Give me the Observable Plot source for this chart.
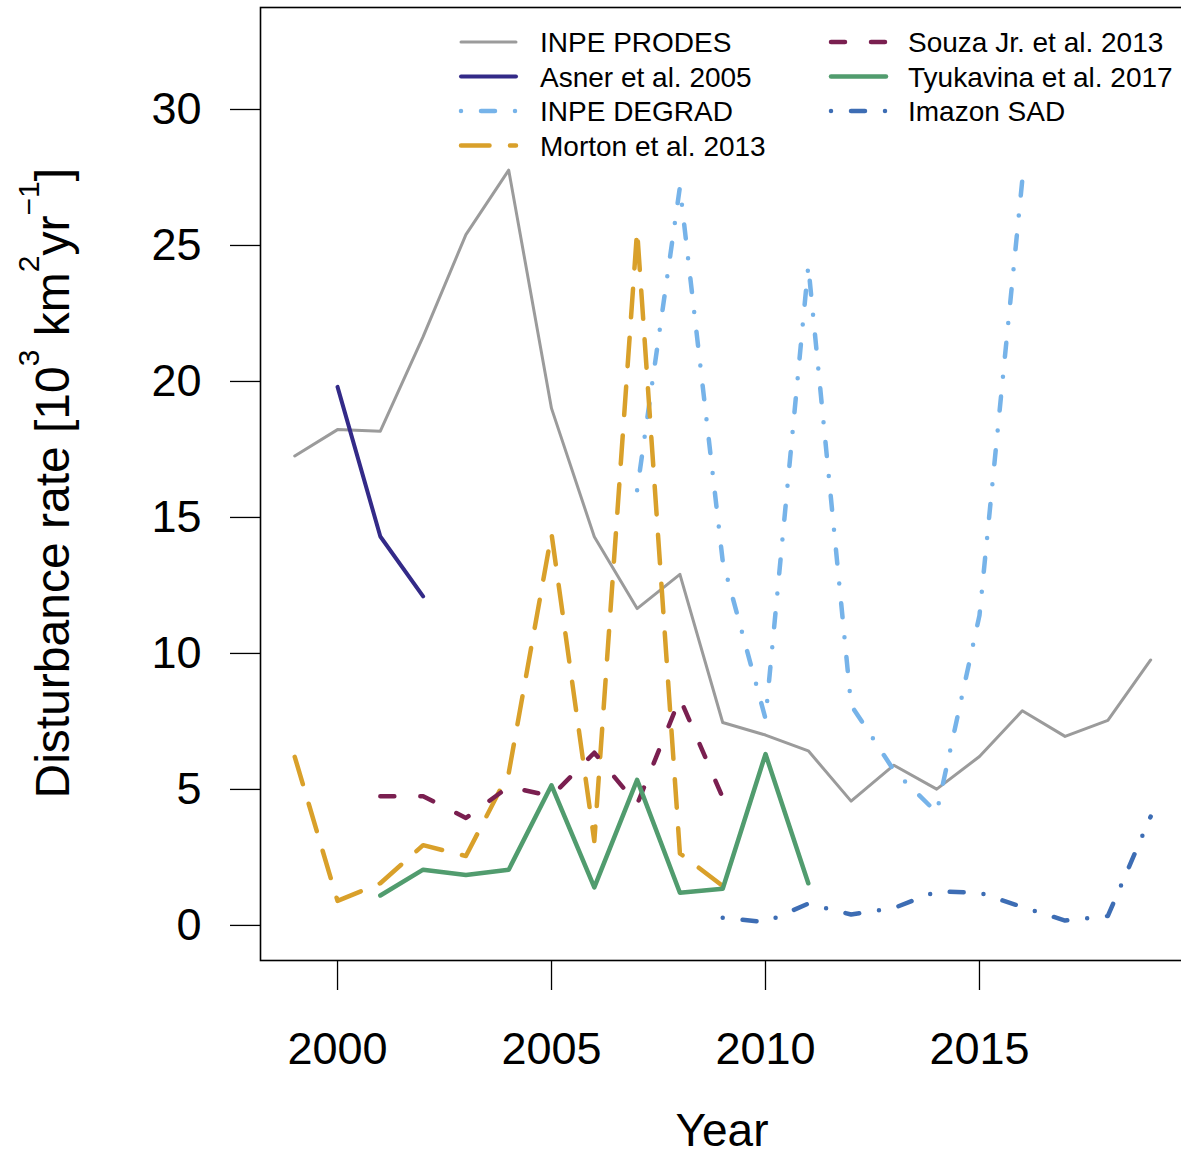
<!DOCTYPE html>
<html>
<head>
<meta charset="utf-8">
<script src="https://cdn.jsdelivr.net/npm/d3@7"></script>
<script src="https://cdn.jsdelivr.net/npm/@observablehq/plot@0.6"></script>
<style>
html, body { margin: 0; padding: 0; background: #fff; overflow: hidden; }
</style>
</head>
<body>
<div id="chart"></div>
<script>
// ---- tick labels ----
const xTicks = [2000, 2005, 2010, 2015];
const yTicks = [0, 5, 10, 15, 20, 25, 30];

// ---- series (10^3 km^2 / yr) ----
const seriesNames = ["INPE PRODES", "Asner et al. 2005", "INPE DEGRAD", "Morton et al. 2013",
                     "Souza Jr. et al. 2013", "Tyukavina et al. 2017", "Imazon SAD"];

const prodesYears = [1999, 2000, 2001, 2002, 2003, 2004, 2005, 2006, 2007, 2008, 2009, 2010, 2011, 2012, 2013, 2014, 2015, 2016, 2017, 2018, 2019];
const prodesRate  = [17.26, 18.23, 18.17, 21.65, 25.40, 27.77, 19.01, 14.29, 11.65, 12.91, 7.46, 7.00, 6.42, 4.57, 5.89, 5.01, 6.21, 7.89, 6.95, 7.54, 9.76];

const asnerYears = [2000, 2001, 2002];
const asnerRate  = [19.8, 14.3, 12.1];

const degradYears = [2007, 2008, 2009, 2010, 2011, 2012, 2013, 2014, 2015, 2016];
const degradRate  = [16.0, 27.15, 13.4, 7.6, 24.25, 8.1, 5.7, 4.15, 11.4, 27.4];

const mortonYears = [1999, 2000, 2001, 2002, 2003, 2004, 2005, 2006, 2007, 2008, 2009];
const mortonRate  = [6.2, 0.9, 1.55, 2.95, 2.55, 5.6, 14.4, 3.1, 25.55, 2.65, 1.45];

const souzaYears = [2001, 2002, 2003, 2004, 2005, 2006, 2007, 2008, 2009];
const souzaRate  = [4.75, 4.75, 3.95, 5.1, 4.75, 6.35, 4.45, 8.35, 4.7];

const tyukavinaYears = [2001, 2002, 2003, 2004, 2005, 2006, 2007, 2008, 2009, 2010, 2011];
const tyukavinaRate  = [1.1, 2.05, 1.85, 2.05, 5.15, 1.4, 5.35, 1.2, 1.35, 6.3, 1.55];

const imazonYears = [2009, 2010, 2011, 2012, 2013, 2014, 2015, 2016, 2017, 2018, 2019];
const imazonRate  = [0.28, 0.12, 0.8, 0.4, 0.64, 1.25, 1.2, 0.68, 0.18, 0.35, 4.0];

// ---- styles (kept apart from the data) ----
const styles = [
  {color: "#9b9b9b", width: 3,   dash: null},
  {color: "#332a88", width: 4,   dash: null},
  {color: "#76b3e9", width: 4.5, dash: "0,20,14,20"},
  {color: "#d9a02a", width: 4.5, dash: "28.5,20.5"},
  {color: "#7a1f50", width: 4.5, dash: "14,26"},
  {color: "#519c6e", width: 4.5, dash: null},
  {color: "#3d6db4", width: 4.5, dash: "0,20,14,20"}
];

const rows = (years, rates) => years.map((year, i) => ({year, rate: rates[i]}));
const seriesData = [
  rows(prodesYears, prodesRate),
  rows(asnerYears, asnerRate),
  rows(degradYears, degradRate),
  rows(mortonYears, mortonRate),
  rows(souzaYears, souzaRate),
  rows(tyukavinaYears, tyukavinaRate),
  rows(imazonYears, imazonRate)
];

const lineMarks = seriesData.map((data, i) => Plot.line(data, {
  x: "year", y: "rate",
  stroke: styles[i].color,
  strokeWidth: styles[i].width,
  strokeDasharray: styles[i].dash ?? undefined,
  strokeLinecap: "round",
  strokeLinejoin: "round"
}));

const chart = Plot.plot({
  width: 1181,
  height: 1156,
  marginLeft: 260,
  marginRight: -3.4,
  marginTop: 7,
  marginBottom: 196,
  x: {domain: [1998.2, 2019.8]},
  y: {domain: [-1.29, 33.75]},
  style: {
    fontFamily: "'Liberation Sans', Arial, Helvetica, sans-serif",
    fontSize: "45px",
    color: "black",
    background: "white",
    overflow: "hidden"
  },
  marks: [
    Plot.axisY(yTicks, {anchor: "left", tickSize: 30, tickPadding: 29, label: null, color: "black", strokeWidth: 1.3}),
    Plot.axisX(xTicks, {anchor: "bottom", tickSize: 30, tickPadding: 42, label: null, color: "black", strokeWidth: 1.3,
                        tickFormat: d => String(d)}),
    ...lineMarks,
    Plot.frame({stroke: "black", strokeWidth: 1.6})
  ]
});

document.getElementById("chart").appendChild(chart);

// ---- axis titles and legend (real text) ----
const svg = d3.select(chart);

svg.append("text")
  .attr("x", 722).attr("y", 1146)
  .attr("text-anchor", "middle")
  .attr("font-size", 46)
  .attr("fill", "black")
  .text("Year");

const yt = svg.append("text")
  .attr("transform", "translate(69,168) rotate(-90)")
  .attr("text-anchor", "end")
  .attr("font-size", 48)
  .attr("fill", "black");
yt.append("tspan").text("Disturbance rate [10");
yt.append("tspan").attr("font-size", 30).attr("dy", -30).text("3");
yt.append("tspan").attr("dy", 30).text(" km");
yt.append("tspan").attr("font-size", 30).attr("dy", -30).text("2");
yt.append("tspan").attr("dy", 30).text("yr");
yt.append("tspan").attr("font-size", 30).attr("dy", -30).text("\u22121");
yt.append("tspan").attr("dy", 30).text("]");

const legend = svg.append("g");
seriesNames.forEach((name, i) => {
  const col = i < 4 ? 0 : 1;
  const row = i < 4 ? i : i - 4;
  const x0 = col === 0 ? 461 : 831;
  const tx = col === 0 ? 540 : 908;
  const y = 42 + row * 34.5;
  const s = styles[i];
  const ln = legend.append("line")
    .attr("x1", x0).attr("x2", x0 + 55)
    .attr("y1", y).attr("y2", y)
    .attr("stroke", s.color)
    .attr("stroke-width", s.width)
    .attr("stroke-linecap", "round");
  if (s.dash) ln.attr("stroke-dasharray", s.dash);
  legend.append("text")
    .attr("x", tx).attr("y", y)
    .attr("dy", "0.36em")
    .attr("text-anchor", "start")
    .attr("font-size", 28)
    .attr("fill", "black")
    .text(name);
});
</script>
</body>
</html>
